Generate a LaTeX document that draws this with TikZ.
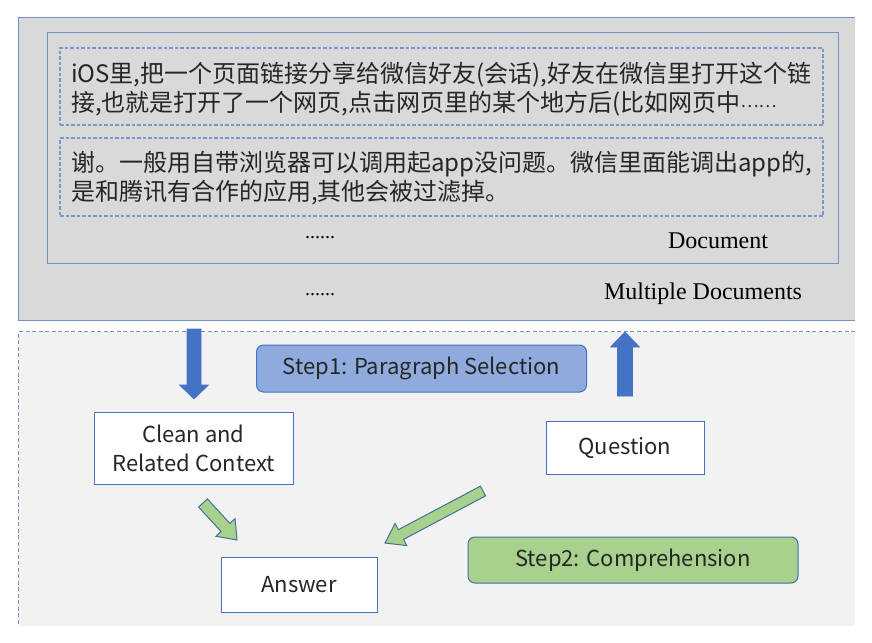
\documentclass[tikz,border=0pt]{standalone}
\usepackage{fontspec}
\setmainfont{Liberation Serif}
\newfontfamily\cjk{Noto Sans CJK SC}
\usetikzlibrary{calc}
\definecolor{grayA}{HTML}{D9D9D9}
\definecolor{grayB}{HTML}{F2F2F2}
\definecolor{lineblue}{HTML}{7292CC}
\definecolor{dashblue}{HTML}{7B98CE}
\definecolor{boxblue}{HTML}{4472C4}
\definecolor{stepblue}{HTML}{8FAADC}
\definecolor{stepgreen}{HTML}{A9D18E}
\definecolor{greenedge}{HTML}{41719C}
\definecolor{txt}{HTML}{262626}
\newcommand\blkarrow[6]{%
  \coordinate (ba-c) at ($(#2)!#5!(#1)$);
  \draw[#6] ($(#1)!#3!90:(#2)$) -- ($(ba-c)!#3!90:(#2)$) -- ($(ba-c)!#4!90:(#2)$)
    -- (#2) -- ($(ba-c)!#4!-90:(#2)$) -- ($(ba-c)!#3!-90:(#2)$) -- ($(#1)!#3!-90:(#2)$) -- cycle;}
\newcommand\cjkdots{\raisebox{4pt}{\fontsize{17}{20}\selectfont……}}
\tikzset{
  cjktext/.style={font=\cjk\fontsize{24}{29}\selectfont, text=txt, align=left, inner sep=0pt, anchor=west},
  parabox/.style={draw=dashblue, line width=1.3pt, dash pattern=on 3.5pt off 2pt, inner sep=0pt},
  plainbox/.style={draw=boxblue, line width=1pt, fill=white, text=txt, align=center, inner sep=0pt, font=\cjk\fontsize{22}{29}\selectfont},
  stepbox/.style={rounded corners=7pt, line width=1pt, text=txt, inner sep=0pt, font=\cjk\fontsize{22}{25}\selectfont},
  serifl/.style={font=\fontsize{24}{28}\selectfont, text=black, inner sep=0pt},
  dots/.style={font=\fontsize{20}{24}\selectfont, text=black, inner sep=0pt},
  bluearrow/.style={fill=boxblue, draw=boxblue, line width=0.6pt},
  greenarrow/.style={fill=stepgreen, draw=greenedge, line width=1pt, line join=miter},
}
\begin{document}
\begin{tikzpicture}[x=1pt,y=-1pt]
\useasboundingbox (0,0) rectangle (872,642);
\fill[white] (0,0) rectangle (872,642);
% upper region
\node[fill=grayA, minimum width=836pt, minimum height=302pt, inner sep=0pt] (multi) at (437,169) {};
\draw[lineblue, line width=1pt] (multi.north east) -- (multi.north west) -- (multi.south west) -- (multi.south east);
\node[draw=lineblue, fill=grayA, line width=1pt, minimum width=791pt, minimum height=230pt, inner sep=0pt] (doc) at (442.5,148) {};
\node[parabox, minimum width=763pt, minimum height=77pt] (p1) at (441.5,86.5) {};
\node[parabox, minimum width=763pt, minimum height=78pt] (p2) at (441.5,177) {};
\node[cjktext] (t1) at (71,89) {iOS里,把一个页面链接分享给微信好友(会话),好友在微信里打开这个链\\接,也就是打开了一个网页,点击网页里的某个地方后(比如网页中\cjkdots};
\node[cjktext] (t2) at (71,178) {谢。一般用自带浏览器可以调用起app没问题。微信里面能调出app的,\\是和腾讯有合作的应用,其他会被过滤掉。};
\node[dots] (d1) at (320,238) {......};
\node[serifl] (doclab) at (718,241) {Document};
\node[dots] (d2) at (320,295) {......};
\node[serifl] (multilab) at (703,294) {Multiple Documents};
% lower region
\node[fill=grayB, minimum width=836pt, minimum height=294pt, inner sep=0pt] (lower) at (437,479) {};
\draw[lineblue, line width=1pt, dash pattern=on 4pt off 2.5pt] (lower.north east) -- (lower.north west) -- (lower.south west);
\node[stepbox, draw=boxblue, fill=stepblue, minimum width=330pt, minimum height=47pt] (s1) at (421.5,368.5) {Step1: Paragraph Selection};
\node[stepbox, draw=greenedge, fill=stepgreen, minimum width=330pt, minimum height=46pt] (s2) at (633,560) {Step2: Comprehension};
\node[plainbox, minimum width=199pt, minimum height=72pt] (ctx) at (193.5,448) {Clean and\\Related Context};
\node[plainbox, minimum width=158pt, minimum height=53pt] (q) at (625,447.5) {Question};
\node[plainbox, minimum width=156pt, minimum height=55pt] (ans) at (299,584.5) {Answer};
% arrows
\coordinate (da) at (194,329);
\coordinate (db) at (194,399);
\blkarrow{da}{db}{7pt}{14.5pt}{14pt}{bluearrow}
\coordinate (ua) at (625,396);
\coordinate (ub) at (625,332);
\blkarrow{ua}{ub}{7.5pt}{14.5pt}{15pt}{bluearrow}
\coordinate (ga) at (203,503);
\coordinate (gb) at (237,540);
\blkarrow{ga}{gb}{6pt}{13pt}{17pt}{greenarrow}
\coordinate (ha) at (483,491);
\coordinate (hb) at (385,543);
\blkarrow{ha}{hb}{5.5pt}{12.5pt}{18pt}{greenarrow}
\end{tikzpicture}
\end{document}
